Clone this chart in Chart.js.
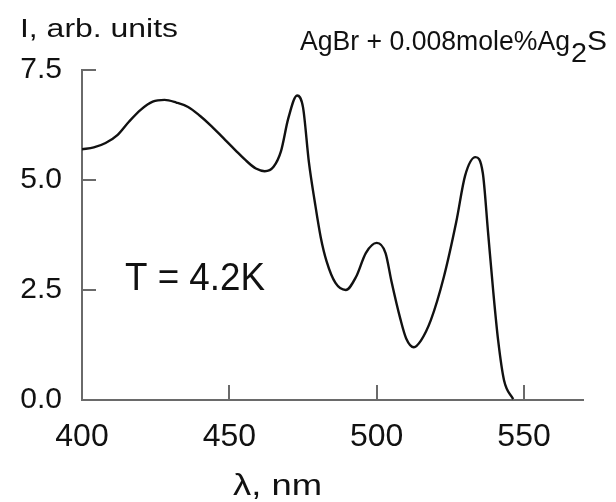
<!DOCTYPE html>
<html>
<head>
<meta charset="utf-8">
<script src="https://cdn.jsdelivr.net/npm/chart.js@4/dist/chart.umd.min.js"></script>
<style>
    html, body { margin: 0; padding: 0; background: #fff; }
    #contenedor { width: 616px; height: 502px; position: relative; }
</style>
</head>
<body>
<div id="contenedor"><canvas id="chartEspectro"></canvas></div>
<script>
const longitudOnda = [400, 404, 408, 412, 416, 420, 424, 428, 432, 436, 440, 444, 448, 452, 456, 459, 462, 465, 467.5,
    470, 473, 475, 477, 479, 481, 483, 486, 489.5, 493, 496.3, 500, 503, 505, 508, 510, 512.6, 515, 518.4,
    522.8, 527, 530, 533.5, 536, 537.8, 539.5, 541.2, 543.2, 546.3];
const intensidad = [5.7, 5.74, 5.84, 6.02, 6.33, 6.6, 6.78, 6.82, 6.76, 6.66, 6.46, 6.22, 5.95, 5.68, 5.42, 5.26, 5.2, 5.3, 5.65,
    6.4, 6.92, 6.65, 5.4, 4.5, 3.7, 3.15, 2.66, 2.5, 2.8, 3.34, 3.57, 3.34, 2.7, 1.85, 1.4, 1.2, 1.35, 1.82,
    2.8, 4.05, 5.1, 5.52, 5.16, 3.8, 2.5, 1.36, 0.45, 0.02];
const ticksX = [400, 450, 500, 550];
const ticksY = [0, 2.5, 5, 7.5];

const FUENTE = '"Liberation Sans", Arial, sans-serif';

// dibuja texto estirado en horizontal hasta un ancho dado
function texto(ctx, str, x, y, size, ancho) {
    ctx.font = size + 'px ' + FUENTE;
    const w = ctx.measureText(str).width;
    const sx = ancho ? ancho / w : 1;
    ctx.save();
    ctx.translate(x, y);
    ctx.scale(sx, 1);
    ctx.fillText(str, 0, 0);
    ctx.restore();
    return w * sx;
}

// ---- Marcas hacia adentro y rótulos ----
const pluginRotulos = {
    id: 'rotulos',
    afterDraw(chart) {
        const ctx = chart.ctx;
        const sx = chart.scales.x;
        const sy = chart.scales.y;
        const area = chart.chartArea;

        ctx.save();
        ctx.strokeStyle = '#6a6a6a';
        ctx.lineWidth = 2;
        ctx.beginPath();
        ticksY.forEach(v => {
            if (v === 0) return;
            const py = Math.round(sy.getPixelForValue(v));
            ctx.moveTo(area.left, py);
            ctx.lineTo(area.left + 14, py);
        });
        ticksX.forEach(v => {
            if (v === 400) return;
            const px = Math.round(sx.getPixelForValue(v));
            ctx.moveTo(px, area.bottom);
            ctx.lineTo(px, area.bottom - 15);
        });
        ctx.stroke();

        ctx.fillStyle = '#111';
        ctx.textBaseline = 'alphabetic';
        ctx.textAlign = 'left';
        texto(ctx, 'I, arb. units', 20, 37, 26, 158);
        texto(ctx, 'T = 4.2K', 125, 290, 38, 140);
        texto(ctx, 'λ, nm', 233, 495, 30, 89);

        // AgBr + 0.008mole%Ag2S con subíndice
        let x = 300;
        x += texto(ctx, 'AgBr + 0.008mole%Ag', x, 50, 27, 270);
        x += texto(ctx, '2', x + 1, 62, 27, 16) + 1;
        texto(ctx, 'S', x, 50, 27, 20);
        ctx.restore();
    }
};

function crearGrafico() {
    const puntos = longitudOnda.map((l, i) => ({ x: l, y: intensidad[i] }));
    const ctx = document.getElementById('chartEspectro').getContext('2d');

    new Chart(ctx, {
        type: 'line',
        data: {
            datasets: [{
                data: puntos,
                borderColor: '#111',
                borderWidth: 2.4,
                pointRadius: 0,
                fill: false,
                cubicInterpolationMode: 'monotone'
            }]
        },
        options: {
            responsive: true,
            maintainAspectRatio: false,
            animation: false,
            layout: { padding: { top: 70, right: 33, left: 0, bottom: 0 } },
            plugins: {
                legend: { display: false },
                tooltip: { enabled: false }
            },
            scales: {
                x: {
                    type: 'linear',
                    min: 400,
                    max: 570,
                    afterFit: s => { s.height = 102; },
                    afterBuildTicks: s => { s.ticks = ticksX.map(v => ({ value: v })); },
                    grid: { drawOnChartArea: false, drawTicks: false },
                    border: { display: true, color: '#6a6a6a', width: 2 },
                    ticks: {
                        padding: 18,
                        color: '#111',
                        maxRotation: 0,
                        font: { family: FUENTE, size: 32 }
                    }
                },
                y: {
                    min: 0,
                    max: 7.5,
                    afterFit: s => { s.width = 82; },
                    afterBuildTicks: s => { s.ticks = ticksY.map(v => ({ value: v })); },
                    grid: { drawOnChartArea: false, drawTicks: false },
                    border: { display: true, color: '#6a6a6a', width: 2 },
                    ticks: {
                        padding: 20,
                        color: '#111',
                        font: { family: FUENTE, size: 30 },
                        callback: v => v.toFixed(1)
                    }
                }
            }
        },
        plugins: [pluginRotulos]
    });
}

document.addEventListener('DOMContentLoaded', crearGrafico);
</script>
</body>
</html>
